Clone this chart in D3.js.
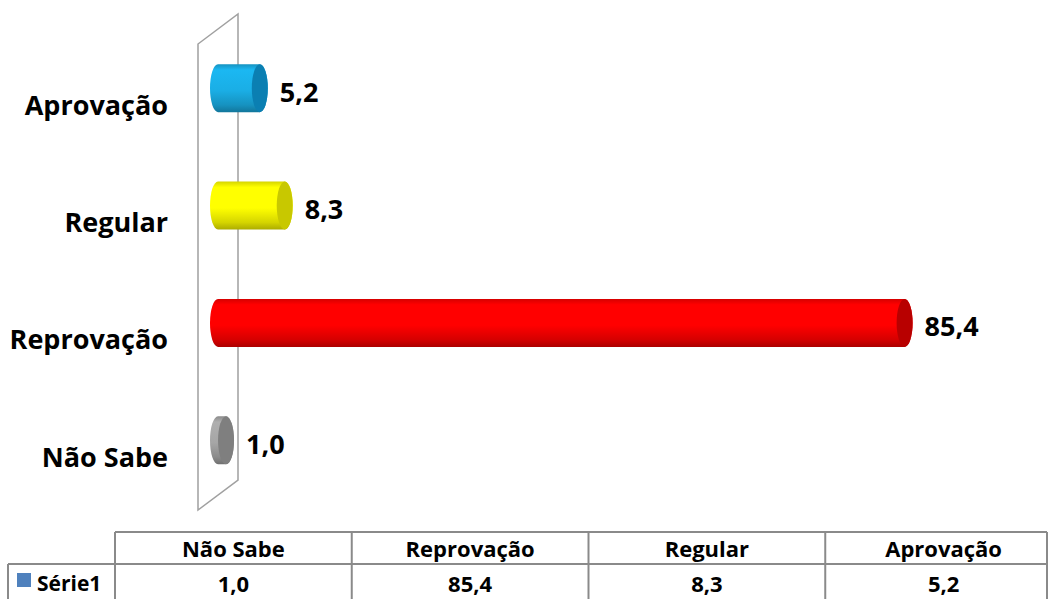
<!DOCTYPE html>
<html>
<head>
<meta charset="utf-8">
<script src="https://cdn.jsdelivr.net/npm/d3@7"></script>
<style>
  body { margin: 0; background: #fff; }
  svg text { font-family: "Open Sans", "Liberation Sans", sans-serif; font-weight: bold; fill: #000; }
</style>
</head>
<body>
<svg id="chart" width="1049" height="599"></svg>
<script>
// data, in table order
const categories = ["Não Sabe", "Reprovação", "Regular", "Aprovação"]
const values = [1.0, 85.4, 8.3, 5.2]
const seriesName = "Série1"
const barColors = ["#a6a6a6", "#ff0000", "#ffff00", "#1aaee5"]
const capColors = ["#7f7f7f", "#b80000", "#c8c800", "#0b7fb2"]

const fmt = v => d3.format(".1f")(v).replace(".", ",")

const svg = d3.select("#chart")
const defs = svg.append("defs")

const x = d3.scaleLinear().domain([0, 90]).range([218, 218 + 90 * 8.04])
// top to bottom the chart shows the categories reversed
const y = d3.scaleBand()
  .domain(categories.slice().reverse())
  .range([29.5, 499])
  .padding(0)

const barH = 48
const rx = 8

// back wall (3d frame)
svg.append("path")
  .attr("d", "M198,510 L198,44 L238,14 L238,480 Z")
  .attr("fill", "none")
  .attr("stroke", "#a0a0a0")
  .attr("stroke-width", 1.5)

// gradients for the cylinders
categories.forEach((c, i) => {
  const base = d3.color(barColors[i])
  const g = defs.append("linearGradient")
    .attr("id", "grad" + i)
    .attr("x1", 0).attr("y1", 0).attr("x2", 0).attr("y2", 1)
  g.append("stop").attr("offset", "0%").attr("stop-color", base.darker(0.5))
  g.append("stop").attr("offset", "12%").attr("stop-color", base.brighter(0.15))
  g.append("stop").attr("offset", "55%").attr("stop-color", base)
  g.append("stop").attr("offset", "85%").attr("stop-color", base.darker(0.5))
  g.append("stop").attr("offset", "100%").attr("stop-color", base.darker(1.1))
})

const bars = svg.selectAll(".bar")
  .data(categories)
  .enter()
  .append("g")
  .classed("bar", true)

bars.append("path")
  .attr("d", (d, i) => {
    const top = y(d) + y.bandwidth() / 2 - barH / 2
    const bot = top + barH
    const x0 = x(0), x1 = x(values[i])
    return `M${x0},${top} L${x1},${top} A${rx},${barH / 2} 0 0 1 ${x1},${bot} L${x0},${bot} A${rx},${barH / 2} 0 0 1 ${x0},${top} Z`
  })
  .attr("fill", (d, i) => `url(#grad${i})`)

bars.append("ellipse")
  .attr("cx", (d, i) => x(values[i]))
  .attr("cy", d => y(d) + y.bandwidth() / 2)
  .attr("rx", rx)
  .attr("ry", barH / 2)
  .attr("fill", (d, i) => capColors[i])

// value labels
bars.append("text")
  .attr("x", (d, i) => x(values[i]) + rx + 12)
  .attr("y", d => y(d) + y.bandwidth() / 2 + 4)
  .attr("dy", "0.35em")
  .style("font-size", "27px")
  .text((d, i) => fmt(values[i]))

// category axis labels (front plane, a bit lower than the bars)
svg.append("g")
  .selectAll("text")
  .data(categories)
  .enter()
  .append("text")
  .attr("x", 168)
  .attr("y", d => y(d) + y.bandwidth() / 2 + 17)
  .attr("dy", "0.35em")
  .attr("text-anchor", "end")
  .style("font-size", "27px")
  .text(d => d)

// data table
const colX = d3.scaleBand().domain(categories).range([115, 1062])
const rowTop = 532, rowMid = 564, rowBot = 600, rightEdge = 1047
const tbl = svg.append("g").attr("stroke", "#8a8a8a").attr("stroke-width", 2)

tbl.append("line").attr("x1", 115).attr("x2", rightEdge).attr("y1", rowTop).attr("y2", rowTop)
tbl.append("line").attr("x1", 8).attr("x2", rightEdge).attr("y1", rowMid).attr("y2", rowMid)
tbl.append("line").attr("x1", 8).attr("x2", 8).attr("y1", rowMid).attr("y2", rowBot)
tbl.append("line").attr("x1", rightEdge).attr("x2", rightEdge).attr("y1", rowTop).attr("y2", rowBot)
tbl.selectAll(".vline")
  .data(categories)
  .enter()
  .append("line")
  .attr("x1", d => colX(d))
  .attr("x2", d => colX(d))
  .attr("y1", rowTop)
  .attr("y2", rowBot)

svg.append("g").selectAll("text")
  .data(categories)
  .enter()
  .append("text")
  .attr("x", d => colX(d) + colX.bandwidth() / 2)
  .attr("y", 557)
  .attr("text-anchor", "middle")
  .style("font-size", "22px")
  .text(d => d)

svg.append("g").selectAll("text")
  .data(values)
  .enter()
  .append("text")
  .attr("x", (d, i) => colX(categories[i]) + colX.bandwidth() / 2)
  .attr("y", 592)
  .attr("text-anchor", "middle")
  .style("font-size", "22px")
  .text(d => fmt(d))

svg.append("rect")
  .attr("x", 17).attr("y", 573)
  .attr("width", 14).attr("height", 14)
  .attr("fill", "#4f81bd")

svg.append("text")
  .attr("x", 37).attr("y", 591)
  .style("font-size", "21px")
  .text(seriesName)
</script>
</body>
</html>
